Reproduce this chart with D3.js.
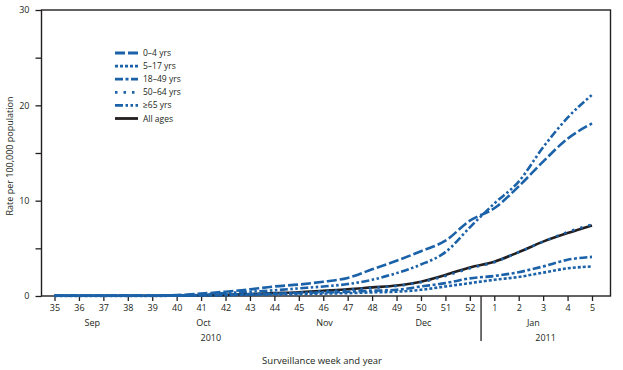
<!DOCTYPE html>
<html>
<head>
<meta charset="utf-8">
<script src="https://cdn.jsdelivr.net/npm/d3@7"></script>
<style>
  body { margin: 0; background: #fff; }
  svg text { font-family: "Open Sans", "Liberation Sans", sans-serif; fill: #231f20; }
</style>
</head>
<body>
<script>
// surveillance weeks (2010 wk35 .. 2011 wk5)
var weeks = ["35","36","37","38","39","40","41","42","43","44","45","46","47","48","49","50","51","52","1","2","3","4","5"];

// rate per 100,000 population
var age0to4   = [0.05,0.05,0.05,0.05,0.05,0.1,0.25,0.45,0.7,1.0,1.2,1.5,1.9,2.8,3.7,4.7,5.8,7.9,9.2,11.5,14.1,16.5,18.1];
var age5to17  = [0.01,0.01,0.01,0.01,0.01,0.03,0.05,0.08,0.12,0.16,0.2,0.25,0.3,0.38,0.45,0.65,1.0,1.35,1.7,2.0,2.45,2.9,3.1];
var age18to49 = [0.02,0.02,0.02,0.02,0.02,0.04,0.08,0.12,0.18,0.25,0.3,0.38,0.45,0.55,0.65,1.0,1.35,1.85,2.1,2.5,3.1,3.8,4.1];
var age50to64 = [0.02,0.02,0.02,0.02,0.02,0.04,0.07,0.1,0.17,0.25,0.35,0.5,0.65,0.85,1.05,1.45,2.1,2.9,3.55,4.6,5.7,6.7,7.5];
var age65up   = [0.02,0.02,0.02,0.02,0.02,0.05,0.15,0.3,0.45,0.6,0.8,1.0,1.25,1.7,2.4,3.3,4.6,7.2,9.7,12.0,15.6,18.7,21.1];
var allAges   = [0.02,0.02,0.02,0.02,0.02,0.05,0.08,0.12,0.2,0.3,0.4,0.55,0.7,0.9,1.1,1.5,2.2,3.0,3.6,4.6,5.7,6.6,7.4];

var seriesNames = ["0–4 yrs","5–17 yrs","18–49 yrs","50–64 yrs","≥65 yrs","All ages"];

// month / year labels, placed at a (fractional) week index
var monthNames = ["Sep","Oct","Nov","Dec","Jan"];
var monthAt    = [1.55, 6.1, 11.05, 15.1, 19.6];
var yearNames  = ["2010","2011"];
var yearAt     = [6.4, 20.1];
var yTicks = [0, 5, 10, 15, 20, 25, 30];
var yLabels = [0, 10, 20, 30];

function draw_chart(){
  var W = 623, H = 370;
  var plot = {left: 41.5, top: 10, right: 610.5, bottom: 296};
  var blue = "#1b62a9";

  var svg = d3.select("body").append("svg")
    .attr("width", W)
    .attr("height", H);

  var xScale = d3.scaleLinear()
    .domain([0, weeks.length - 1])
    .range([54.5, 592]);

  var yScale = d3.scaleLinear()
    .domain([0, 30])
    .range([plot.bottom, plot.top]);

  // frame
  svg.append("rect")
    .attr("x", plot.left).attr("y", plot.top)
    .attr("width", plot.right - plot.left)
    .attr("height", plot.bottom - plot.top)
    .attr("fill", "none")
    .attr("stroke", "#231f20")
    .attr("stroke-width", 1.4);

  // y axis
  var yAxis = svg.append("g")
    .attr("transform", "translate(" + plot.left + ",0)")
    .call(d3.axisLeft(yScale).tickValues(yTicks).tickSize(6)
      .tickFormat(function(d){ return yLabels.indexOf(d) >= 0 ? d : ""; }));
  yAxis.select(".domain").remove();
  yAxis.selectAll("line").attr("stroke", "#231f20").attr("stroke-width", 1.3);
  yAxis.selectAll("text").attr("x", -12).style("font-size", "9px");

  svg.append("text")
    .attr("transform", "translate(13,156) rotate(-90)")
    .attr("text-anchor", "middle")
    .style("font-size", "9px")
    .text("Rate per 100,000 population");

  // x axis (weeks)
  var xAxis = svg.append("g")
    .attr("transform", "translate(0," + plot.bottom + ")")
    .call(d3.axisBottom(xScale).tickValues(d3.range(weeks.length)).tickSize(5)
      .tickFormat(function(d){ return weeks[d]; }));
  xAxis.select(".domain").remove();
  xAxis.selectAll("line").attr("stroke", "#231f20").attr("stroke-width", 1.3);
  xAxis.selectAll("text").attr("y", 9).style("font-size", "9px");

  // year divider between wk52 and wk1
  var divX = (xScale(17) + xScale(18)) / 2 - 1;
  svg.append("line")
    .attr("x1", divX).attr("x2", divX)
    .attr("y1", plot.bottom).attr("y2", 341)
    .attr("stroke", "#231f20").attr("stroke-width", 1.3);

  svg.append("g").selectAll("text")
    .data(monthNames)
    .enter().append("text")
    .attr("x", function(d, i){ return xScale(monthAt[i]); })
    .attr("y", 326)
    .attr("text-anchor", "middle")
    .style("font-size", "9px")
    .text(function(d){ return d; });

  svg.append("g").selectAll("text")
    .data(yearNames)
    .enter().append("text")
    .attr("x", function(d, i){ return xScale(yearAt[i]); })
    .attr("y", 341)
    .attr("text-anchor", "middle")
    .style("font-size", "9px")
    .text(function(d){ return d; });

  svg.append("text")
    .attr("x", 322).attr("y", 364)
    .attr("text-anchor", "middle")
    .style("font-size", "9.5px")
    .text("Surveillance week and year");

  // lines
  var series = [
    {name: seriesNames[0], values: age0to4,   color: blue, dash: "10,3"},
    {name: seriesNames[1], values: age5to17,  color: blue, dash: "3,2"},
    {name: seriesNames[2], values: age18to49, color: blue, dash: "8,2.5,3,2.5"},
    {name: seriesNames[3], values: age50to64, color: blue, dash: "2.5,6"},
    {name: seriesNames[4], values: age65up,   color: blue, dash: "8,2.5,2.5,2.5,2.5,2.5"},
    {name: seriesNames[5], values: allAges,   color: "#231f20", dash: null}
  ];

  var line = d3.line()
    .x(function(d, i){ return xScale(i); })
    .y(function(d){ return yScale(d); })
    .curve(d3.curveMonotoneX);

  // draw black first so the blue 50-64 dots sit on top of it
  var order = [5, 1, 2, 0, 4, 3];
  order.forEach(function(k){
    var s = series[k];
    svg.append("path")
      .datum(s.values)
      .attr("d", line)
      .attr("fill", "none")
      .attr("stroke", s.color)
      .attr("stroke-width", 2.6)
      .attr("stroke-dasharray", s.dash);
  });

  // legend
  var lg = svg.append("g");
  series.forEach(function(s, i){
    var y = 53 + i * 13.1;
    lg.append("line")
      .attr("x1", 115).attr("x2", 138)
      .attr("y1", y).attr("y2", y)
      .attr("stroke", s.color)
      .attr("stroke-width", 2.8)
      .attr("stroke-dasharray", s.dash);
    lg.append("text")
      .attr("x", 143).attr("y", y + 3)
      .style("font-size", "8.5px")
      .text(s.name);
  });
}

draw_chart();
</script>
</body>
</html>
